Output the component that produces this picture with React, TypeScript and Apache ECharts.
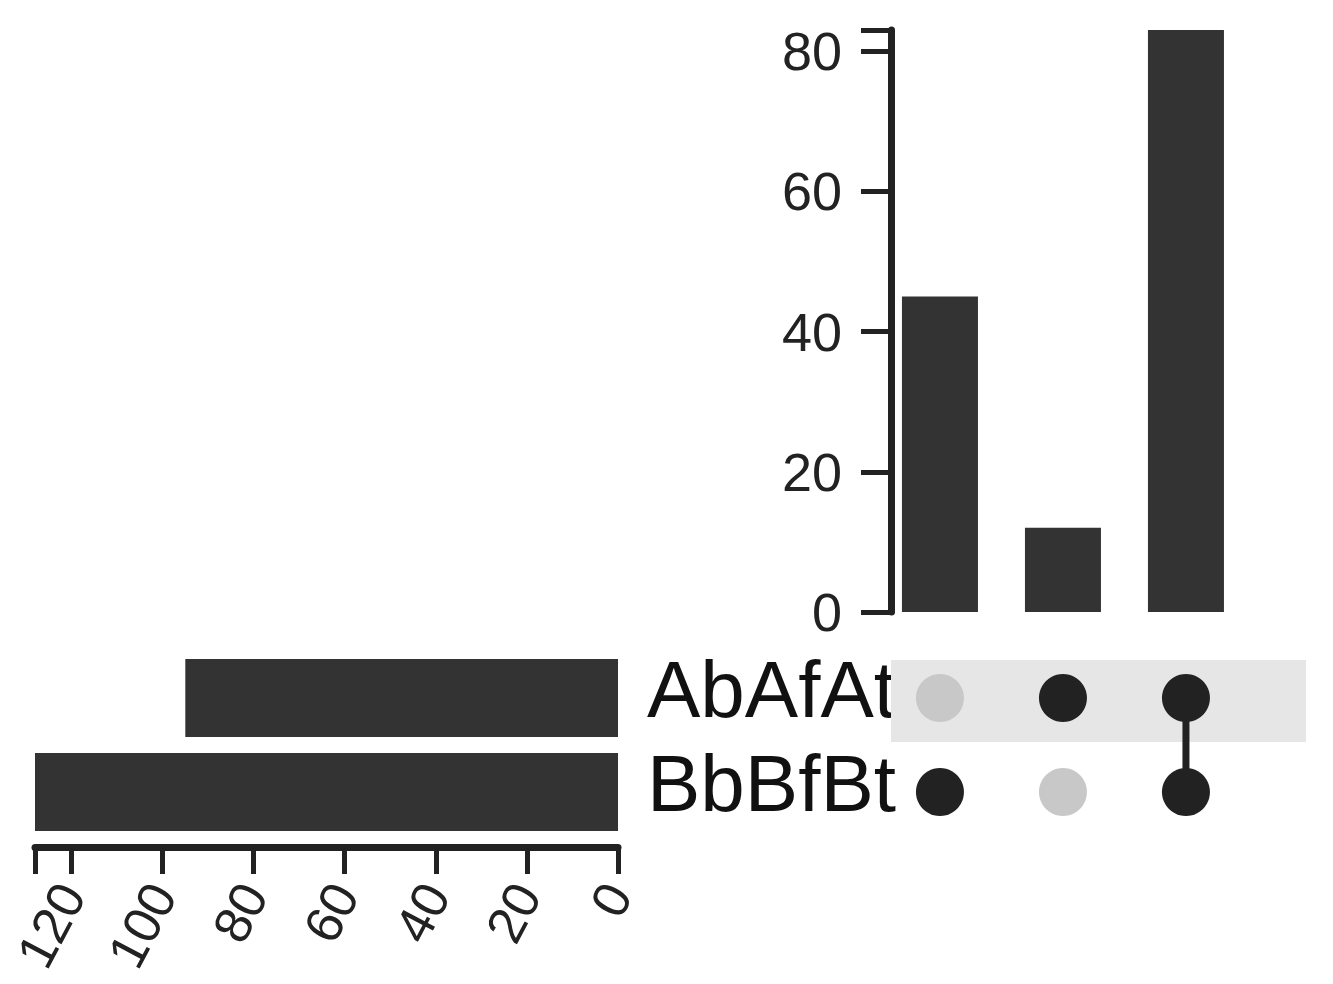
import React, { useEffect, useRef } from "react";
import * as echarts from "echarts";

// ---- data ----
const SETS: string[] = ["AbAfAt", "BbBfBt"];
const SET_SIZES: number[] = [95, 128];
const INTERSECTIONS: string[][] = [["BbBfBt"], ["AbAfAt"], ["AbAfAt", "BbBfBt"]];
const INTERSECTION_SIZES: number[] = [45, 12, 83];
const HIGHLIGHT_SET = "AbAfAt";
const COUNT_TICKS: number[] = [0, 20, 40, 60, 80];
const SET_TICKS: number[] = [0, 20, 40, 60, 80, 100, 120];

const FONT = "'Liberation Sans', Arial, Helvetica, sans-serif";
const DARK = "#222222";
const BAR = "#333333";
const INACTIVE = "#c8c8c8";

// column domain for the intersection columns (index space)
const X_MIN = -0.398;
const X_MAX = 2.976;

export default function App() {
  const ref = useRef<HTMLDivElement>(null);

  useEffect(() => {
    document.body.style.margin = "0";
    if (!ref.current) return;
    const chart = echarts.init(ref.current, null, { renderer: "svg" });

    const countMax = Math.max(...INTERSECTION_SIZES);
    const setMax = Math.max(...SET_SIZES);

    const dots: any[] = [];
    INTERSECTIONS.forEach((members, i) => {
      SETS.forEach((s) => {
        const on = members.includes(s);
        dots.push({ value: [i, s], itemStyle: { color: on ? DARK : INACTIVE, opacity: 1 } });
      });
    });

    const connectors: any[] = INTERSECTIONS.filter((m) => m.length > 1).map((members) => {
      const i = INTERSECTIONS.indexOf(members);
      const rows = members.map((m) => SETS.indexOf(m)).sort((a, b) => a - b);
      return {
        type: "line",
        xAxisIndex: 1,
        yAxisIndex: 1,
        data: [
          [i, SETS[rows[0]]],
          [i, SETS[rows[rows.length - 1]]],
        ],
        showSymbol: false,
        symbol: "none",
        lineStyle: { color: DARK, width: 7, opacity: 1 },
        z: 3,
        silent: true,
      };
    });

    const option: any = {
      animation: false,
      backgroundColor: "#ffffff",
      textStyle: { fontFamily: FONT },
      grid: [
        { left: 891, right: 27, top: 30, height: 582 },
        { left: 891, right: 27, top: 651, height: 188 },
        { left: 35, width: 583, top: 651, height: 188 },
      ],
      xAxis: [
        { gridIndex: 0, type: "value", min: X_MIN, max: X_MAX, show: false },
        { gridIndex: 1, type: "value", min: X_MIN, max: X_MAX, show: false },
        {
          gridIndex: 2,
          type: "value",
          inverse: true,
          min: 0,
          max: setMax,
          interval: 20,
          position: "bottom",
          offset: 8,
          axisLine: { show: true, onZero: false, lineStyle: { color: DARK, width: 7 } },
          axisTick: {
            show: true,
            length: 27,
            customValues: [...SET_TICKS, setMax],
            lineStyle: { color: DARK, width: 5 },
          },
          axisLabel: {
            rotate: 62,
            margin: 40,
            fontSize: 52,
            color: DARK,
            fontFamily: FONT,
            customValues: SET_TICKS,
          },
          splitLine: { show: false },
        },
      ],
      yAxis: [
        {
          gridIndex: 0,
          type: "value",
          position: "left",
          min: 0,
          max: countMax,
          interval: 20,
          axisLine: { show: true, onZero: false, lineStyle: { color: DARK, width: 7 } },
          axisTick: {
            show: true,
            length: 30,
            customValues: [...COUNT_TICKS, countMax],
            lineStyle: { color: DARK, width: 5 },
          },
          axisLabel: {
            margin: 49,
            fontSize: 54,
            color: DARK,
            fontFamily: FONT,
            customValues: COUNT_TICKS,
          },
          splitLine: { show: false },
        },
        {
          gridIndex: 1,
          type: "category",
          data: SETS,
          inverse: true,
          axisLine: { show: false, onZero: false },
          axisTick: { show: false },
          axisLabel: {
            fontSize: 80,
            margin: -5,
            color: "#111111",
            fontFamily: FONT,
            interval: 0,
            verticalAlign: "bottom",
            lineHeight: 18,
          },
          splitLine: { show: false },
        },
        { gridIndex: 2, type: "category", data: SETS, inverse: true, show: false },
      ],
      series: [
        {
          type: "bar",
          xAxisIndex: 0,
          yAxisIndex: 0,
          data: INTERSECTION_SIZES.map((v, i) => [i, v]),
          barWidth: 76,
          itemStyle: { color: BAR },
          silent: true,
        },
        {
          type: "custom",
          xAxisIndex: 1,
          yAxisIndex: 1,
          data: [[0, HIGHLIGHT_SET]],
          z: 1,
          silent: true,
          renderItem: (params: any, api: any) => {
            const cs = params.coordSys;
            const c = api.coord([0, api.value(1)]);
            const h = api.size([0, 1])[1] * 0.87;
            return {
              type: "rect",
              shape: { x: cs.x, y: c[1] - h / 2 + 3, width: cs.width, height: h },
              style: { fill: "#e6e6e6" },
            };
          },
        },
        ...connectors,
        {
          type: "scatter",
          xAxisIndex: 1,
          yAxisIndex: 1,
          data: dots,
          symbolSize: 48,
          itemStyle: { opacity: 1 },
          z: 4,
          silent: true,
        },
        {
          type: "bar",
          xAxisIndex: 2,
          yAxisIndex: 2,
          data: SET_SIZES,
          barWidth: 78,
          itemStyle: { color: BAR },
          silent: true,
        },
      ],
    };

    chart.setOption(option);
    return () => chart.dispose();
  }, []);

  return <div ref={ref} style={{ width: 1333, height: 984 }} />;
}
